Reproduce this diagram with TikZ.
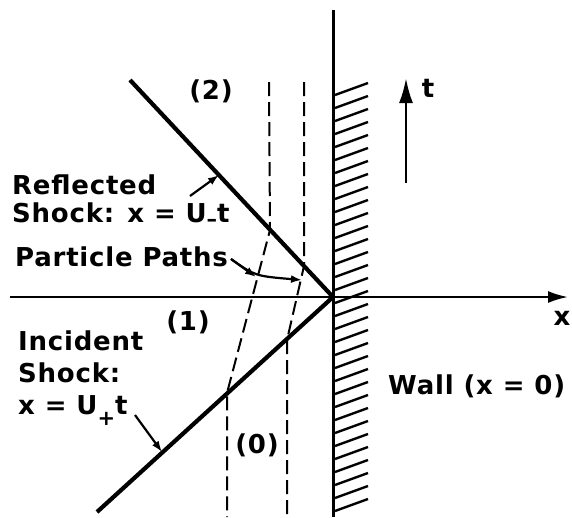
\documentclass[tikz,border=0pt]{standalone}
\usepackage{fontspec}
\setsansfont{DejaVu Sans}[LetterSpace=3]
\usetikzlibrary{arrows.meta}
\newcommand{\lowsub}[2]{\raisebox{#1}{\fontsize{21}{21}\selectfont #2}}
\tikzset{
  >={Latex[length=11pt,width=8pt]},
  lbl/.style={font=\sffamily\bfseries\fontsize{26}{28}\selectfont, inner sep=0pt, align=left},
  shock/.style={line width=4.2pt},
  ppath/.style={dash pattern=on 14pt off 6pt, line width=2pt},
  hatch/.style={line width=2.4pt},
  ptr/.style={->, line width=2.2pt},
}

\begin{document}
\begin{tikzpicture}[x=1pt, y=-1pt]
  \useasboundingbox (0,0) rectangle (572,517);

  % wall and axes
  \coordinate (o) at (333,297);
  \draw[line width=3pt] (333,10) -- (333,517);
  \foreach \y in {95,108,...,515}
    \draw[hatch] (335,\y) -- ++(33,-12);
  \draw[line width=2.2pt, -{Latex[length=20pt,width=12pt]}] (10,297) -- (568,297);
  \draw[line width=2.6pt, -{Latex[length=25pt,width=14pt]}] (406,183) -- (406,78);
  \node[lbl] (xlab) at (562,318) {x};
  \node[lbl] (tlab) at (428,88) {t};

  % shocks
  \draw[shock] (130,80) -- (o);
  \draw[shock] (97,512) -- (o);

  % particle paths
  \draw[ppath] (269,82) -- (270,230) -- (227,393) -- (227,517);
  \draw[ppath] (304,82) -- (304,266) -- (287,340) -- (287,517);

  % region labels
  \node[lbl] (r2) at (211,91) {(2)};
  \node[lbl] (r1) at (188,322) {(1)};
  \node[lbl] (r0) at (257,445) {(0)};
  \node[lbl, anchor=west] (wall) at (388,386) {Wall (x = 0)};

  % shock labels
  \node[lbl, anchor=north west] (refl) at (12,175) {Reflected\\Shock: x = U\lowsub{-4pt}{--}t};
  \coordinate (rtail) at (190,196);
  \coordinate (rtip) at (219,175);
  \draw[ptr] (rtail) -- (rtip);

  \node[lbl, anchor=north west, font=\sffamily\bfseries\fontsize{26}{32}\selectfont] (inc) at (18,331) {Incident\\Shock:\\x = U\lowsub{-11pt}{+}t};
  \coordinate (itail) at (135,415);
  \coordinate (itip) at (162,452);
  \draw[ptr] (itail) -- (itip);

  \node[lbl, anchor=west] (pp) at (15,257) {Particle Paths};
  \coordinate (ptail) at (231,259);
  \coordinate (ptip1) at (256,277);
  \coordinate (ptip2) at (302,280);
  \draw[ptr] (ptail) -- (ptip1);
  \draw[ptr] (ptail) .. controls (255,276) .. (ptip2);
\end{tikzpicture}
\end{document}
